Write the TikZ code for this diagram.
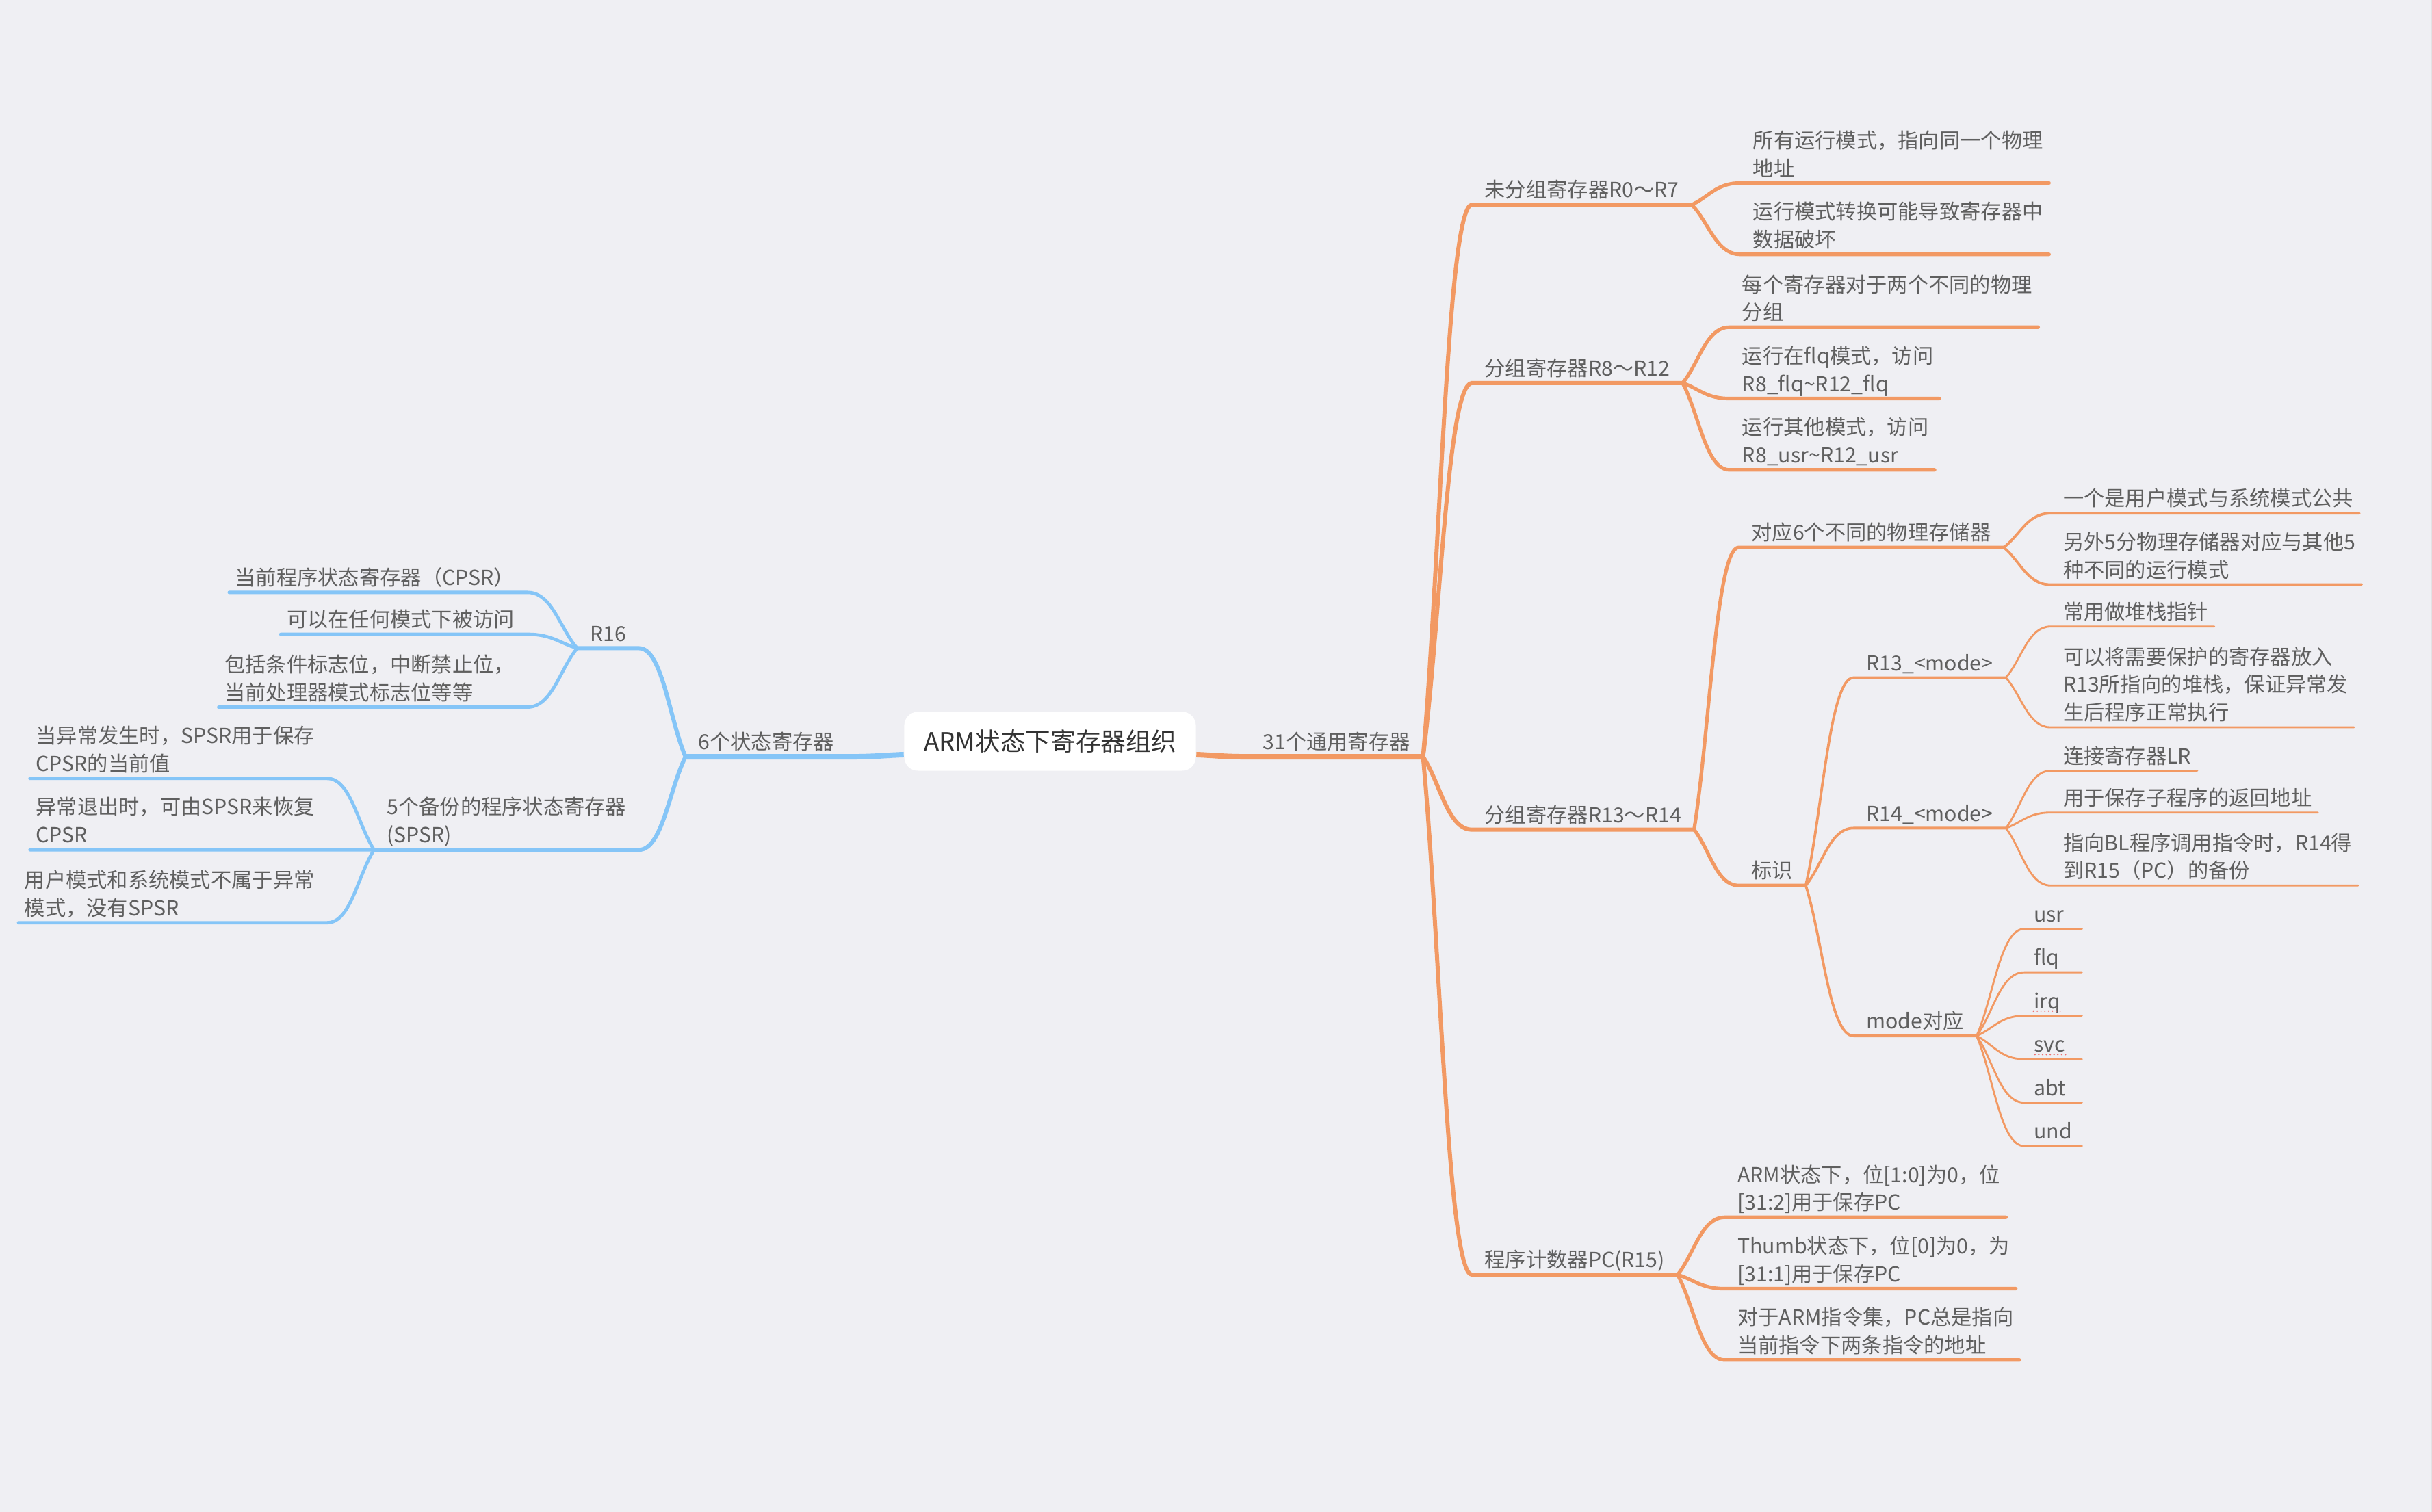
\documentclass[tikz,border=0pt]{standalone}
\usepackage{fontspec}
\setmainfont{Noto Sans CJK SC}
\usetikzlibrary{calc}

\definecolor{bgcol}{RGB}{239,239,243}
\definecolor{orangeline}{RGB}{242,153,99}
\definecolor{blueline}{RGB}{133,197,247}
\definecolor{txtgray}{RGB}{95,95,95}
\definecolor{roottxt}{RGB}{51,51,51}
\definecolor{edgegray}{RGB}{226,226,228}
\definecolor{spellred}{RGB}{238,110,110}

\newcommand\topicfont{\fontsize{7.6}{10.24}\selectfont}
\newcommand\rootfont{\fontsize{9.2}{11}\selectfont}

\tikzset{
  topic/.style={font=\topicfont, text=txtgray, inner xsep=4.5pt, inner ysep=1pt, text depth=1.4pt, align=left},
  rside/.style={topic, anchor=south west},
  lside/.style={topic, anchor=south east},
  modebox/.style={rside, inner xsep=3.4pt, text width=0.58cm},
  rootbox/.style={fill=white, rounded corners=5pt, font=\rootfont, text=roottxt, minimum width=3.76cm, minimum height=0.76cm},
  branch/.style={to path={.. controls ($(\tikztostart)!0.35!(\tikztotarget)$) and ($(\tikztostart|-\tikztotarget)!0.5!(\tikztotarget)$) .. (\tikztotarget)}},
  oline/.style={draw=orangeline, line cap=round, line join=round, line width=#1},
  bline/.style={draw=blueline, line cap=round, line join=round, line width=#1},
  spell/.style={draw=spellred, line width=0.6pt, line cap=round, dash pattern=on 0pt off 1.4pt}
}

\begin{document}
\begin{tikzpicture}[x=0.02cm, y=-0.02cm]
    \fill[bgcol] (0,0) rectangle (1568,975);
    \fill[edgegray] (1567,0) rectangle (1568,975);
    \useasboundingbox (0,0) rectangle (1568,975);

    \node[rootbox] (root) at (677,478) {ARM状态下寄存器组织};

    % right: general registers
    \node[rside] (gen) at (806,488) {31个通用寄存器};
    \node[rside] (r07) at (949,132) {未分组寄存器R0～R7};
    \node[rside] (r812) at (949,247) {分组寄存器R8～R12};
    \node[rside] (r1314) at (949,535) {分组寄存器R13～R14};
    \node[rside] (pc) at (949,822) {程序计数器PC(R15)};

    \node[rside] (sameaddr) at (1122,118) {所有运行模式，指向同一个物理\\地址};
    \node[rside] (corrupt) at (1122,164) {运行模式转换可能导致寄存器中\\数据破坏};
    \node[rside] (twophys) at (1115,211) {每个寄存器对于两个不同的物理\\分组};
    \node[rside] (fiqacc) at (1115,257) {运行在flq模式，访问\\R8\_flq\textasciitilde R12\_flq};
    \node[rside] (usracc) at (1115,303) {运行其他模式，访问\\R8\_usr\textasciitilde R12\_usr};
    \node[rside] (phy) at (1121,353) {对应6个不同的物理存储器};
    \node[rside] (mark) at (1121,571) {标识};

    \node[rside] (shared) at (1322,331) {一个是用户模式与系统模式公共};
    \node[rside] (others) at (1322,377) {另外5分物理存储器对应与其他5\\种不同的运行模式};
    \node[rside] (r13) at (1195,437) {R13\_<mode>};
    \node[rside] (r14) at (1195,534) {R14\_<mode>};
    \node[rside] (modes) at (1195,668) {mode对应};

    \node[rside] (stack) at (1322,404) {常用做堆栈指针};
    \node[rside] (protect) at (1322,469) {可以将需要保护的寄存器放入\\R13所指向的堆栈，保证异常发\\生后程序正常执行};
    \node[rside] (lr) at (1322,497) {连接寄存器LR};
    \node[rside] (ret) at (1322,524) {用于保存子程序的返回地址};
    \node[rside] (bl) at (1322,571) {指向BL程序调用指令时，R14得\\到R15（PC）的备份};

    \foreach \m [count=\i from 0] in {usr,flq,irq,svc,abt,und}
        \node[modebox] (\m) at (1305,599+28*\i) {\m};

    \node[rside] (armpc) at (1112,785) {ARM状态下，位[1:0]为0，位\\{}[31:2]用于保存PC};
    \node[rside] (thumbpc) at (1112,831) {Thumb状态下，位[0]为0，为\\{}[31:1]用于保存PC};
    \node[rside] (next2) at (1112,877) {对于ARM指令集，PC总是指向\\当前指令下两条指令的地址};

    % left: status registers
    \node[lside] (sta) at (546,488) {6个状态寄存器};
    \node[lside] (r16) at (412,418) {R16};
    \node[lside] (spsr) at (412,548) {5个备份的程序状态寄存器\\(SPSR)};
    \node[lside] (cpsr) at (340,382) {当前程序状态寄存器（CPSR）};
    \node[lside] (anymode) at (340,409) {可以在任何模式下被访问};
    \node[lside] (flags) at (340,456) {包括条件标志位，中断禁止位，\\当前处理器模式标志位等等};
    \node[lside] (save) at (211,502) {当异常发生时，SPSR用于保存\\CPSR的当前值};
    \node[lside] (restore) at (211,548) {异常退出时，可由SPSR来恢复\\CPSR};
    \node[lside] (nospsr) at (211,595) {用户模式和系统模式不属于异常\\模式，没有SPSR};

    % connectors, right (hubs run to their children, leaves stop short)
    \draw[oline=2pt, line cap=butt] ([yshift=-4.9pt]root.east) to[branch] (gen.south west) -- (gen.south east);
    \foreach \n in {r07,r812,r1314,pc}
        \draw[oline=1.5pt] (gen.south east) to[branch] (\n.south west) -- (\n.south east);
    \foreach \n in {phy,mark}
        \draw[oline=1.3pt] (r1314.south east) to[branch] (\n.south west) -- (\n.south east);
    \foreach \p/\n in {r07/sameaddr,r07/corrupt,r812/twophys,r812/fiqacc,r812/usracc,
                       pc/armpc,pc/thumbpc,pc/next2}
        \draw[oline=1.3pt] (\p.south east) to[branch] (\n.south west) -- ([xshift=-2.5pt]\n.south east);
    \foreach \n in {r13,r14,modes}
        \draw[oline=0.95pt] (mark.south east) to[branch] (\n.south west) -- (\n.south east);
    \foreach \n in {shared,others}
        \draw[oline=0.95pt] (phy.south east) to[branch] (\n.south west) -- ([xshift=-2.5pt]\n.south east);
    \foreach \p/\n in {r13/stack,r13/protect,r14/lr,r14/ret,r14/bl,
                       modes/usr,modes/flq,modes/irq,modes/svc,modes/abt,modes/und}
        \draw[oline=0.72pt] (\p.south east) to[branch] (\n.south west) -- ([xshift=-2.5pt]\n.south east);

    % connectors, left
    \draw[bline=2pt, line cap=butt] ([yshift=-4.9pt]root.west) to[branch] (sta.south east) -- (sta.south west);
    \foreach \n in {r16,spsr}
        \draw[bline=1.5pt] (sta.south west) to[branch] (\n.south east) -- (\n.south west);
    \foreach \p/\n in {r16/cpsr,r16/anymode,r16/flags,spsr/save,spsr/restore,spsr/nospsr}
        \draw[bline=1.2pt] (\p.south west) to[branch] (\n.south east) -- ([xshift=2.5pt]\n.south west);

    % spell-check marks
    \draw[spell] ($(irq.south west)+(6,-3)$) -- ++(18,0);
    \draw[spell] ($(svc.south west)+(7,-3)$) -- ++(20,0);
\end{tikzpicture}
\end{document}
